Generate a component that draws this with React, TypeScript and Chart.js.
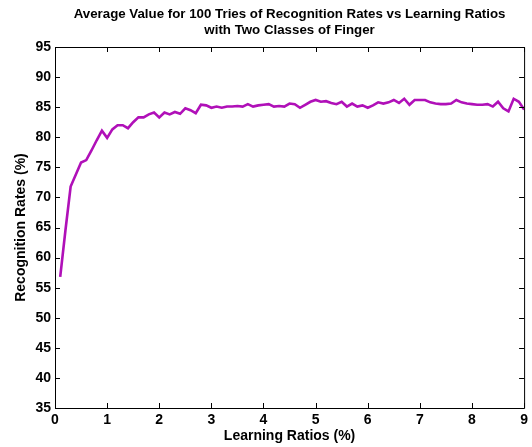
import React, { useEffect, useRef } from "react";
import { Chart, registerables } from "chart.js";

Chart.register(...registerables);

const titleLines = [
  "Average Value for 100 Tries of Recognition Rates vs Learning Ratios",
  "with Two Classes of Finger",
];
const xAxisTitle = "Learning Ratios (%)";
const yAxisTitle = "Recognition Rates (%)";

const learningRatios = [
  0.1, 0.2, 0.3, 0.4, 0.5, 0.6, 0.7, 0.8, 0.9, 1.0,
  1.1, 1.2, 1.3, 1.4, 1.5, 1.6, 1.7, 1.8, 1.9, 2.0,
  2.1, 2.2, 2.3, 2.4, 2.5, 2.6, 2.7, 2.8, 2.9, 3.0,
  3.1, 3.2, 3.3, 3.4, 3.5, 3.6, 3.7, 3.8, 3.9, 4.0,
  4.1, 4.2, 4.3, 4.4, 4.5, 4.6, 4.7, 4.8, 4.9, 5.0,
  5.1, 5.2, 5.3, 5.4, 5.5, 5.6, 5.7, 5.8, 5.9, 6.0,
  6.1, 6.2, 6.3, 6.4, 6.5, 6.6, 6.7, 6.8, 6.9, 7.0,
  7.1, 7.2, 7.3, 7.4, 7.5, 7.6, 7.7, 7.8, 7.9, 8.0,
  8.1, 8.2, 8.3, 8.4, 8.5, 8.6, 8.7, 8.8, 8.9, 9.0,
];

const recognitionRates = [
  56.8, 64.5, 71.8, 73.8, 75.8, 76.2, 77.8, 79.5, 81.1, 79.9,
  81.3, 82.0, 82.0, 81.5, 82.5, 83.3, 83.3, 83.8, 84.1, 83.3,
  84.1, 83.8, 84.2, 83.9, 84.8, 84.5, 84.0, 85.4, 85.3, 84.9,
  85.1, 84.9, 85.1, 85.1, 85.2, 85.1, 85.5, 85.1, 85.3, 85.4,
  85.5, 85.1, 85.2, 85.1, 85.6, 85.5, 84.9, 85.4, 85.9, 86.2,
  85.9, 86.0, 85.7, 85.5, 85.9, 85.1, 85.6, 85.1, 85.3, 84.9,
  85.3, 85.8, 85.6, 85.8, 86.2, 85.7, 86.4, 85.4, 86.2, 86.2,
  86.2, 85.8, 85.6, 85.5, 85.5, 85.6, 86.2, 85.8, 85.6, 85.5,
  85.4, 85.4, 85.5, 85.1, 85.9, 84.8, 84.3, 86.4, 85.9, 84.6,
];

const xMin = 0;
const xMax = 9;
const xStep = 1;
const yMin = 35;
const yMax = 95;
const yStep = 5;

const FONT = "'Liberation Sans', Arial, sans-serif";

const boxPlugin = {
  id: "matlabBox",
  afterDraw(chart: any) {
    const { ctx, chartArea } = chart;
    const { left, right, top, bottom } = chartArea;
    const xs = chart.scales.x;
    const ys = chart.scales.y;
    ctx.save();
    ctx.strokeStyle = "#000";
    ctx.lineWidth = 1;
    ctx.beginPath();
    ctx.rect(left + 0.5, top + 0.5, right - left, bottom - top);
    const tl = 5;
    xs.ticks.forEach((t: any) => {
      const px = Math.round(xs.getPixelForValue(t.value)) + 0.5;
      ctx.moveTo(px, bottom);
      ctx.lineTo(px, bottom - tl);
      ctx.moveTo(px, top);
      ctx.lineTo(px, top + tl);
    });
    ys.ticks.forEach((t: any) => {
      const py = Math.round(ys.getPixelForValue(t.value)) + 0.5;
      ctx.moveTo(left, py);
      ctx.lineTo(left + tl, py);
      ctx.moveTo(right, py);
      ctx.lineTo(right - tl, py);
    });
    ctx.stroke();
    // title centered over plot area
    ctx.fillStyle = "#000";
    ctx.font = `bold 13.3px ${FONT}`;
    ctx.textAlign = "center";
    ctx.textBaseline = "middle";
    const cx = (left + right) / 2;
    titleLines.forEach((line, i) => {
      ctx.fillText(line, cx, 14 + i * 16.5);
    });
    ctx.restore();
  },
};

export default function App() {
  const canvasRef = useRef<HTMLCanvasElement | null>(null);

  useEffect(() => {
    document.body.style.margin = "0";
    const canvas = canvasRef.current;
    if (!canvas) return;
    const chart = new Chart(canvas, {
      type: "line",
      data: {
        datasets: [
          {
            data: learningRatios.map((x, i) => ({ x, y: recognitionRates[i] })),
            borderColor: "#b010b8",
            borderWidth: 2.6,
            pointRadius: 0,
            tension: 0,
            fill: false,
          },
        ],
      },
      options: {
        animation: false,
        responsive: false,
        maintainAspectRatio: false,
        layout: { padding: { left: 0, right: 6, top: 47, bottom: 0 } },
        plugins: {
          legend: { display: false },
          tooltip: { enabled: false },
          title: { display: false },
        },
        scales: {
          x: {
            type: "linear",
            min: xMin,
            max: xMax,
            grid: { display: false, drawTicks: false },
            border: { display: false },
            ticks: {
              stepSize: xStep,
              color: "#000",
              padding: 4,
              maxRotation: 0,
              font: { family: FONT, size: 14, weight: "bold" },
            },
            title: {
              display: true,
              text: xAxisTitle,
              color: "#000",
              padding: { top: 0, bottom: 2 },
              font: { family: FONT, size: 14, weight: "bold" },
            },
            afterFit(scale: any) {
              scale.height = 39;
            },
          },
          y: {
            type: "linear",
            min: yMin,
            max: yMax,
            grid: { display: false, drawTicks: false },
            border: { display: false },
            ticks: {
              stepSize: yStep,
              color: "#000",
              padding: 4,
              font: { family: FONT, size: 14, weight: "bold" },
            },
            title: {
              display: true,
              text: yAxisTitle,
              color: "#000",
              padding: { top: 13, bottom: 0 },
              font: { family: FONT, size: 14, weight: "bold" },
            },
            afterFit(scale: any) {
              scale.width = 55;
            },
          },
        },
      },
      plugins: [boxPlugin],
    });
    return () => chart.destroy();
  }, []);

  return (
    <div style={{ position: "fixed", left: 0, top: 0, width: 532, height: 447, background: "#fff" }}>
      <canvas ref={canvasRef} width={532} height={447} style={{ width: 532, height: 447 }} />
    </div>
  );
}
